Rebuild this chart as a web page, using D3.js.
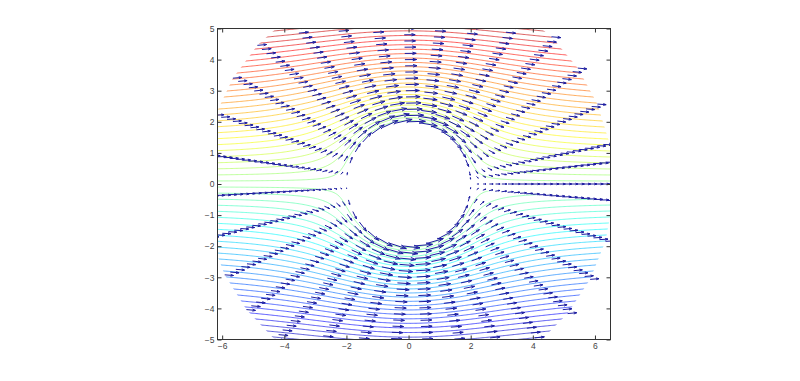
<!DOCTYPE html>
<html>
<head>
<meta charset="utf-8">
<script src="https://cdn.jsdelivr.net/npm/d3@7"></script>
<style>
  body { margin: 0; background: #fff; }
  svg { display: block; font-family: Arial, "Liberation Sans", sans-serif; }
  .tick text { font-size: 8.5px; fill: #444; }
  .tick line { stroke: #333; }
</style>
</head>
<body>
<svg id="chart" width="800" height="381"></svg>
<script>
const width = 800;
const height = 381;

// axis limits and tick labels
const xLimits = [-6.15, 6.5];
const yLimits = [-5, 5];
const xTicks = [-6, -4, -2, 0, 2, 4, 6];
const yTicks = [-5, -4, -3, -2, -1, 0, 1, 2, 3, 4, 5];

// flow past a cylinder: radius, free stream speed
const cylinderRadius = 2;
const freeStream = 1;

const radii = [2.0, 2.2, 2.4, 2.6, 2.8, 3.0, 3.2, 3.4, 3.6, 3.8, 4.0, 4.2,
  4.4, 4.6, 4.8, 5.0, 5.2, 5.4, 5.6, 5.8, 6.0, 6.2, 6.4, 6.6];
const angles = [0, 0.2, 0.4, 0.6, 0.8, 1.0, 1.2, 1.4, 1.6, 1.8, 2.0, 2.2,
  2.4, 2.6, 2.8, 3.0, 3.2, 3.4, 3.6, 3.8, 4.0, 4.2, 4.4, 4.6, 4.8, 5.0,
  5.2, 5.4, 5.6, 5.8, 6.0, 6.2];
const extraRays = [0.11];

// quiver look
const arrowScale = 0.3;
const headAlpha = 0.33;
const headBeta = 0.33;

// contour levels of the stream function (about 68 lines) and colour limits
const levelStep = 0.175;
const levels = d3.range(-33.5, 34, 1).map(k => k * levelStep);
const colorLimits = [-5, 5];

const svg = d3.select("#chart");

const x = d3.scaleLinear().domain(xLimits).range([217.5, 610.5]);
const y = d3.scaleLinear().domain(yLimits).range([339.5, 28.5]);

// stream function and velocity
const a2 = cylinderRadius * cylinderRadius;
function psi(px, py) {
  const r2 = px * px + py * py;
  return freeStream * py * (1 - a2 / r2);
}
function velocity(px, py) {
  const r2 = px * px + py * py;
  const r4 = r2 * r2;
  return [freeStream * (1 - a2 * (px * px - py * py) / r4), -freeStream * 2 * a2 * px * py / r4];
}

function jet(t) {
  const c = v => Math.max(0, Math.min(1, v));
  return d3.rgb(255 * c(1.5 - Math.abs(4 * t - 3)),
    255 * c(1.5 - Math.abs(4 * t - 2)),
    255 * c(1.5 - Math.abs(4 * t - 1))).toString();
}
const colorScale = d3.scaleLinear().domain(colorLimits).range([0, 1]).clamp(true);

// clip paths: axes box and the sampled sector of the annulus
const defs = svg.append("defs");
defs.append("clipPath").attr("id", "box")
  .append("rect")
  .attr("x", x(xLimits[0])).attr("y", y(yLimits[1]))
  .attr("width", x(xLimits[1]) - x(xLimits[0]))
  .attr("height", y(yLimits[0]) - y(yLimits[1]));

const rMax = d3.max(radii);
const sectorPts = angles.map(t => [rMax * Math.cos(t), rMax * Math.sin(t)])
  .concat(angles.slice().reverse().map(t => [cylinderRadius * Math.cos(t), cylinderRadius * Math.sin(t)]));
defs.append("clipPath").attr("id", "sector")
  .append("path")
  .attr("d", d3.line().x(d => x(d[0])).y(d => y(d[1]))(sectorPts) + "Z");

// contour lines on a fine cartesian grid
const h = 0.04;
const g0 = -7;
const n = 351;
const values = new Float64Array(n * n);
for (let j = 0; j < n; j++) {
  for (let i = 0; i < n; i++) {
    let v = psi(g0 + i * h, g0 + j * h);
    if (!isFinite(v)) v = 0;
    values[j * n + i] = Math.max(-30, Math.min(30, v));
  }
}
const contours = d3.contours().size([n, n]).thresholds(levels)(values);
const gridToPlot = d3.geoTransform({
  point: function(gx, gy) {
    this.stream.point(x(g0 + (gx - 0.5) * h), y(g0 + (gy - 0.5) * h));
  }
});
const contourPath = d3.geoPath(gridToPlot);

const plot = svg.append("g").attr("clip-path", "url(#box)");

plot.append("g").attr("clip-path", "url(#sector)")
  .selectAll("path")
  .data(contours)
  .join("path")
  .attr("d", contourPath)
  .attr("fill", "none")
  .attr("stroke", d => jet(colorScale(d.value)))
  .attr("stroke-opacity", 0.85)
  .attr("stroke-width", 0.75);

// quiver arrows, MATLAB style heads
const points = d3.cross(radii, angles.concat(extraRays))
  .map(([r, t]) => {
    const px = r * Math.cos(t), py = r * Math.sin(t);
    const [u, v] = velocity(px, py);
    return { px, py, u: u * arrowScale, v: v * arrowScale };
  });

function arrowPath(d) {
  const tx = d.px + d.u, ty = d.py + d.v;
  const h1x = tx - headAlpha * (d.u + headBeta * d.v);
  const h1y = ty - headAlpha * (d.v - headBeta * d.u);
  const h2x = tx - headAlpha * (d.u - headBeta * d.v);
  const h2y = ty - headAlpha * (d.v + headBeta * d.u);
  return `M${x(d.px)},${y(d.py)}L${x(tx)},${y(ty)}` +
    `M${x(h1x)},${y(h1y)}L${x(tx)},${y(ty)}L${x(h2x)},${y(h2y)}`;
}

plot.append("g")
  .selectAll("path")
  .data(points)
  .join("path")
  .attr("d", arrowPath)
  .attr("fill", "none")
  .attr("stroke", "#1c1ca0")
  .attr("stroke-width", 1);

// axes: ticks inside on all four sides, box around
const tickLen = 4;
svg.append("g")
  .attr("transform", `translate(0,${y(yLimits[0])})`)
  .call(d3.axisBottom(x).tickValues(xTicks).tickSize(-tickLen).tickPadding(3))
  .call(g => g.select(".domain").remove());
svg.append("g")
  .attr("transform", `translate(0,${y(yLimits[1])})`)
  .call(d3.axisTop(x).tickValues(xTicks).tickSize(-tickLen).tickFormat(""))
  .call(g => g.select(".domain").remove());
svg.append("g")
  .attr("transform", `translate(${x(xLimits[0])},0)`)
  .call(d3.axisLeft(y).tickValues(yTicks).tickSize(-tickLen).tickPadding(3))
  .call(g => g.select(".domain").remove());
svg.append("g")
  .attr("transform", `translate(${x(xLimits[1])},0)`)
  .call(d3.axisRight(y).tickValues(yTicks).tickSize(-tickLen).tickFormat(""))
  .call(g => g.select(".domain").remove());

svg.append("rect")
  .attr("x", x(xLimits[0])).attr("y", y(yLimits[1]))
  .attr("width", x(xLimits[1]) - x(xLimits[0]))
  .attr("height", y(yLimits[0]) - y(yLimits[1]))
  .attr("fill", "none")
  .attr("stroke", "#333")
  .attr("stroke-width", 1);
</script>
</body>
</html>
